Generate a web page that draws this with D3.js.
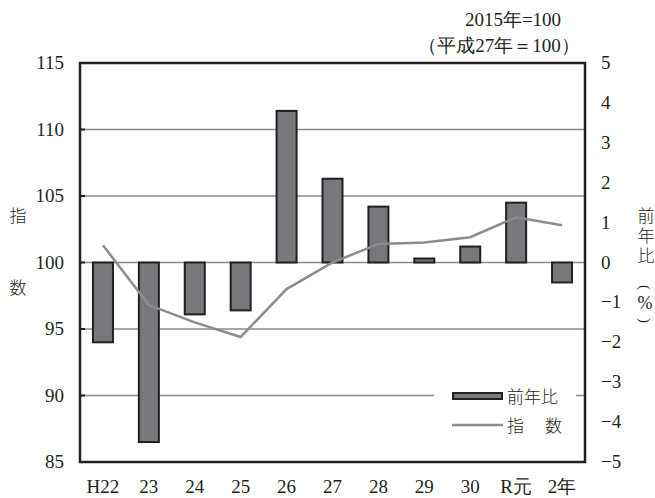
<!DOCTYPE html>
<html>
<head>
  <meta http-equiv="Content-Type" content="text/html;charset=utf-8" />
  <style type="text/css">
    body { margin: 0; background: #fff; }
  </style>
</head>
<body>
  <div id="svgContainer"></div>
  <script src="https://d3js.org/d3.v7.min.js"></script>
  <script type="text/javascript">
    var w = 655;
    var h = 498;

    // data
    var years = ["H22", "23", "24", "25", "26", "27", "28", "29", "30", "R元", "2年"];
    var changeRate = [-2.0, -4.5, -1.3, -1.2, 3.8, 2.1, 1.4, 0.1, 0.4, 1.5, -0.5];   // 前年比 (%)
    var indexValues = [101.3, 96.8, 95.5, 94.4, 98.0, 100.0, 101.4, 101.5, 101.9, 103.4, 102.8]; // 指数
    var leftTicks = [85, 90, 95, 100, 105, 110, 115];
    var rightTicks = [-5, -4, -3, -2, -1, 0, 1, 2, 3, 4, 5];

    var plot = { left: 80, right: 585, top: 63, bottom: 462 };
    var serif = "Liberation Serif";
    var cjk = "Noto Sans CJK JP";
    var ink = "#231f20";

    var svg = d3.select("#svgContainer")
      .append("svg")
      .attr("width", w)
      .attr("height", h);

    var x = d3.scaleBand().domain(years).range([plot.left, plot.right]);
    var yL = d3.scaleLinear().domain([85, 115]).range([plot.bottom, plot.top]);
    var yR = d3.scaleLinear().domain([-5, 5]).range([plot.bottom, plot.top]);

    // gridlines
    svg.append("g").selectAll("line")
      .data(leftTicks.filter(function (d) { return d > 85 && d < 115; }))
      .enter().append("line")
      .attr("x1", plot.left).attr("x2", plot.right)
      .attr("y1", function (d) { return yL(d); })
      .attr("y2", function (d) { return yL(d); })
      .attr("stroke", "#8a8a8a")
      .attr("stroke-width", 1.5);

    // left inward ticks
    svg.append("g").selectAll("line")
      .data(leftTicks)
      .enter().append("line")
      .attr("x1", plot.left).attr("x2", plot.left + 5)
      .attr("y1", function (d) { return yL(d); })
      .attr("y2", function (d) { return yL(d); })
      .attr("stroke", ink)
      .attr("stroke-width", 2);

    // bars
    var bw = 20;
    svg.append("g").selectAll("rect")
      .data(changeRate)
      .enter().append("rect")
      .attr("x", function (d, i) { return x(years[i]) + x.bandwidth() / 2 - bw / 2; })
      .attr("y", function (d) { return Math.min(yR(d), yR(0)); })
      .attr("width", bw)
      .attr("height", function (d) { return Math.abs(yR(d) - yR(0)); })
      .attr("fill", "#77787b")
      .attr("stroke", ink)
      .attr("stroke-width", 2);

    // index line
    var line = d3.line()
      .x(function (d, i) { return x(years[i]) + x.bandwidth() / 2; })
      .y(function (d) { return yL(d); });

    svg.append("path")
      .attr("d", line(indexValues))
      .attr("fill", "none")
      .attr("stroke", "#8c8c8c")
      .attr("stroke-width", 2.5);

    // legend
    var lg = svg.append("g");
    lg.append("rect")
      .attr("x", 434).attr("y", 381).attr("width", 142).attr("height", 60)
      .attr("fill", "#fff");
    lg.append("rect")
      .attr("x", 453).attr("y", 393).attr("width", 49).attr("height", 6)
      .attr("fill", "#77787b").attr("stroke", ink).attr("stroke-width", 2);
    lg.append("line")
      .attr("x1", 452).attr("x2", 503).attr("y1", 425).attr("y2", 425)
      .attr("stroke", "#8c8c8c").attr("stroke-width", 2.5);
    lg.append("text").attr("x", 507).attr("y", 403)
      .attr("fill", ink).attr("font-family", cjk).attr("font-size", 17).attr("font-weight", 300)
      .text("前年比");
    lg.append("text").attr("x", 507).attr("y", 432)
      .attr("fill", ink).attr("font-family", cjk).attr("font-size", 17).attr("font-weight", 300)
      .attr("letter-spacing", 2)
      .text("指　数");

    // frame
    svg.append("rect")
      .attr("x", plot.left).attr("y", plot.top)
      .attr("width", plot.right - plot.left).attr("height", plot.bottom - plot.top)
      .attr("fill", "none")
      .attr("stroke", ink)
      .attr("stroke-width", 2.5);

    // left tick labels
    svg.append("g").selectAll("text")
      .data(leftTicks)
      .enter().append("text")
      .attr("x", 64)
      .attr("y", function (d) { return yL(d) + 6; })
      .attr("text-anchor", "end")
      .attr("fill", ink).attr("font-family", serif).attr("font-size", 19)
      .text(function (d) { return d; });

    // right tick labels
    svg.append("g").selectAll("text")
      .data(rightTicks)
      .enter().append("text")
      .attr("x", 601)
      .attr("y", function (d) { return yR(d) + 6; })
      .attr("fill", ink).attr("font-family", serif).attr("font-size", 19)
      .text(function (d) { return d < 0 ? "−" + Math.abs(d) : d; });

    // x labels
    svg.append("g").selectAll("text")
      .data(years)
      .enter().append("text")
      .attr("x", function (d) { return x(d) + x.bandwidth() / 2; })
      .attr("y", 493)
      .attr("text-anchor", "middle")
      .attr("fill", ink).attr("font-family", serif).attr("font-size", 19)
      .text(function (d) { return d; });

    // axis titles
    svg.append("text").attr("x", 18).attr("y", 222).attr("text-anchor", "middle")
      .attr("fill", ink).attr("font-family", cjk).attr("font-size", 17).attr("font-weight", 300)
      .text("指");
    svg.append("text").attr("x", 18).attr("y", 294).attr("text-anchor", "middle")
      .attr("fill", ink).attr("font-family", cjk).attr("font-size", 17).attr("font-weight", 300)
      .text("数");

    // right title stacked vertically in one text element
    var rightTitle = ["前", "年", "比"];
    var rt = svg.append("text")
      .attr("text-anchor", "middle")
      .attr("fill", ink).attr("font-family", cjk).attr("font-size", 17).attr("font-weight", 300);
    rt.selectAll("tspan")
      .data(rightTitle)
      .enter().append("tspan")
      .attr("x", 646)
      .attr("y", function (d, i) { return 222 + i * 20; })
      .text(function (d) { return d; });
    // (%) : rotated parentheses around an upright %
    svg.append("text")
      .attr("transform", "translate(640,285) rotate(90)")
      .attr("fill", ink).attr("font-family", serif).attr("font-size", 15)
      .text("(");
    svg.append("text")
      .attr("x", 645).attr("y", 309).attr("text-anchor", "middle")
      .attr("fill", ink).attr("font-family", serif).attr("font-size", 18)
      .text("%");
    svg.append("text")
      .attr("transform", "translate(640,318) rotate(90)")
      .attr("fill", ink).attr("font-family", serif).attr("font-size", 15)
      .text(")");

    // top note
    svg.append("text").attr("x", 513).attr("y", 26).attr("text-anchor", "middle")
      .attr("fill", ink).attr("font-family", serif).attr("font-size", 19)
      .text("2015年=100");
    svg.append("text").attr("x", 499).attr("y", 52).attr("text-anchor", "middle")
      .attr("fill", ink).attr("font-family", serif).attr("font-size", 19)
      .text("（平成27年＝100）");
  </script>
</body>
</html>
